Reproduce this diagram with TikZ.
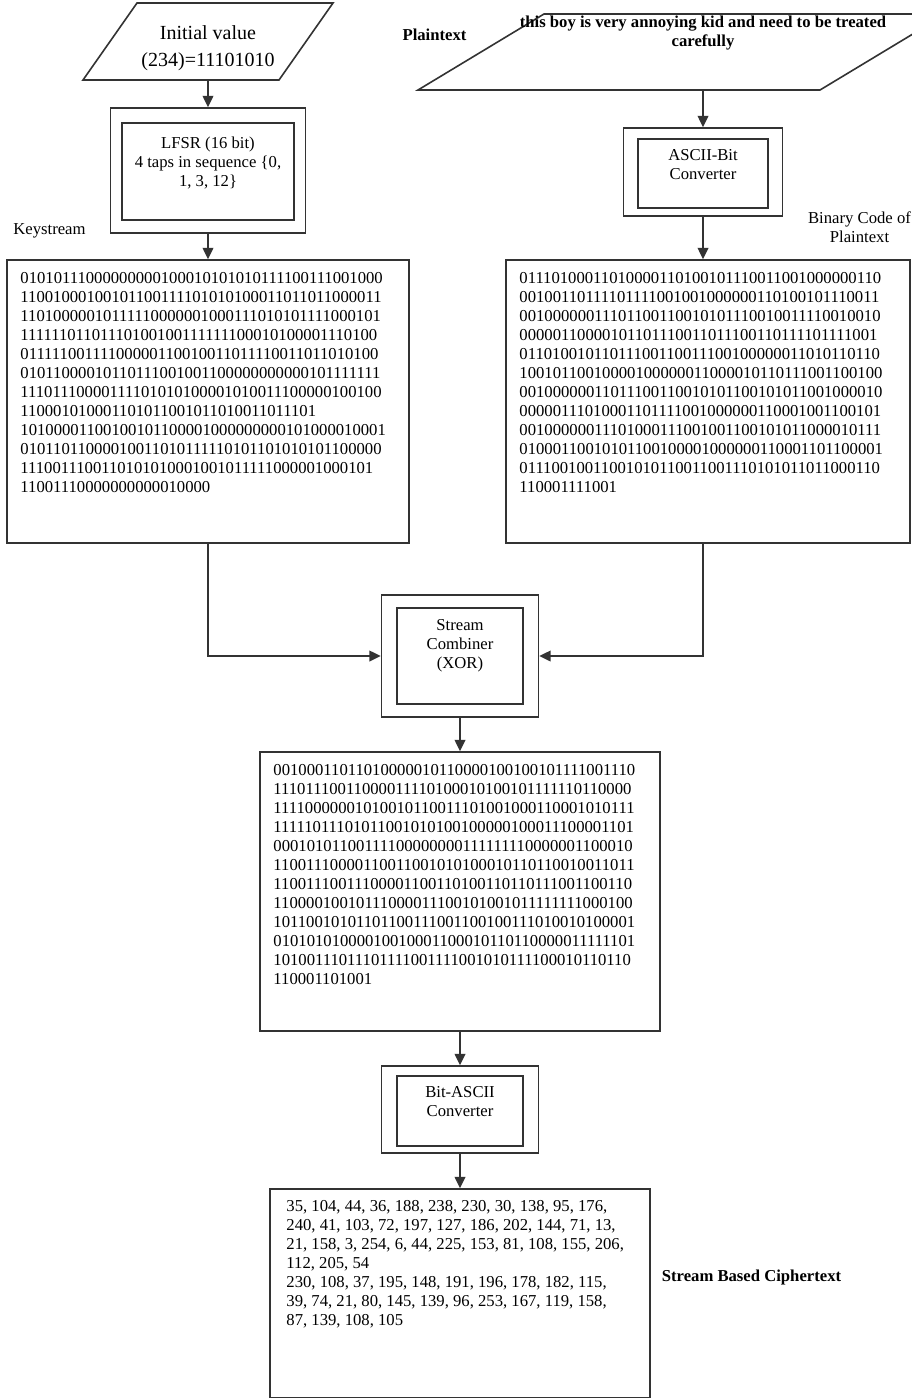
\documentclass[tikz,border=0pt]{standalone}
\usepackage{fontspec}
\setmainfont{Liberation Serif}
\usetikzlibrary{arrows.meta,positioning}

\begin{document}
\begin{tikzpicture}[x=0.75pt,y=-0.75pt,
  ln/.style={draw=black!80,line width=1.2pt},
  blk/.style={ln,inner sep=0pt},
  sz/.style 2 args={minimum width=#1*0.75pt,minimum height=#2*0.75pt},
  arr/.style={ln,-{Triangle[width=8pt,length=8.5pt]}},
  lbl/.style={inner sep=0pt,align=center,font=\fontsize{12.5}{14.25}\selectfont},
  bits/.style={anchor=north west,inner sep=0pt,align=left,font=\fontsize{12.5}{14.25}\selectfont}]
\useasboundingbox (0,0) rectangle (912,1399);

% left: initial value -> LFSR -> keystream
\draw[ln] (83,80) -- (137,3) -- (333,3) -- (279,80) -- cycle;
\node[lbl,font=\fontsize{15}{20}\selectfont] (init) at (208,48) {Initial value\\(234)=11101010};
\coordinate (initout) at (208,80);
\node[blk,sz={195}{125}] (lfsr) at (208,170.5) {};
\node[blk,sz={172}{97}] (lfsrin) at (208,171.5) {};
\node[lbl,anchor=north] (lfsrtxt) at ([shift={(0,14)}]lfsrin.north) {LFSR (16 bit)\\4 taps in sequence \{0,\\1, 3, 12\}};
\node[lbl] (kslbl) at (49.5,231) {Keystream};
\node[blk,sz={402}{283}] (kbox) at (208,401.5) {};
\node[bits] (kbits) at ([shift={(14,13)}]kbox.north west) {%
01010111000000000100010101010111100111001000\\
11001000100101100111101010100011011011000011\\
11010000010111110000001000111010101111000101\\
11111101101110100100111111100010100001110100\\
01111100111100000110010011011110011011010100\\
01011000010110111001001100000000000101111111\\
11101110000111101010100001010011100000100100\\
110001010001101011001011010011011101\\
10100001100100101100001000000000101000010001\\
01011011000010011010111110101101010101100000\\
1110011100110101010001001011111000001000101\\
11001110000000000010000};
\draw[arr] (initout) -- (lfsr.north);
\draw[arr] (lfsr.south) -- (kbox.north);

% right: plaintext -> ASCII-Bit -> binary code
\node[lbl,font=\fontsize{12.5}{14.25}\selectfont\bfseries] (ptlbl) at (434.5,35) {Plaintext};
\draw[ln] (418,90) -- (544,14) -- (946,14) -- (820,90) -- cycle;
\node[lbl,font=\fontsize{12.5}{14.25}\selectfont\bfseries] (ptxt) at (703,33.5) {this boy is very annoying kid and need to be treated\\carefully};
\coordinate (ptout) at (703,90);
\node[blk,sz={159}{88}] (ascii) at (703,172) {};
\node[blk,sz={130}{69}] (asciiin) at (703,173.5) {};
\node[lbl,anchor=north] (asciitxt) at ([shift={(0,11)}]asciiin.north) {ASCII-Bit\\Converter};
\node[lbl] (bclbl) at (859.5,227) {Binary Code of\\Plaintext};
\node[blk,sz={404}{283}] (pbox) at (708,401.5) {};
\node[bits] (pbits) at ([shift={(14,13)}]pbox.north west) {%
01110100011010000110100101110011001000000110\\
00100110111101111001001000000110100101110011\\
00100000011101100110010101110010011110010010\\
00000110000101101110011011100110111101111001\\
01101001011011100110011100100000011010110110\\
10010110010000100000011000010110111001100100\\
00100000011011100110010101100101011001000010\\
00000111010001101111001000000110001001100101\\
00100000011101000111001001100101011000010111\\
01000110010101100100001000000110001101100001\\
01110010011001010110011001110101011011000110\\
110001111001};
\draw[arr] (ptout) -- (ascii.north);
\draw[arr] (ascii.south) -- (ascii.south |- pbox.north);

% middle: XOR combiner -> Bit-ASCII -> ciphertext
\node[blk,sz={157}{122}] (comb) at (460,656) {};
\node[blk,sz={126}{96}] (combin) at (460,656) {};
\node[lbl,anchor=north] (combtxt) at ([shift={(0,12)}]combin.north) {Stream\\Combiner\\(XOR)};
\draw[arr] (kbox.south) |- (comb.west);
\draw[arr] (ascii.south |- pbox.south) |- (comb.east);
\node[blk,sz={400}{279}] (xbox) at (460,891.5) {};
\node[bits] (xbits) at ([shift={(14,13)}]xbox.north west) {%
00100011011010000010110000100100101111001110\\
11101110011000011110100010100101111110110000\\
11110000001010010110011101001000110001010111\\
11111011101011001010100100000100011100001101\\
00010101100111100000000111111110000001100010\\
11001110000110011001010100010110110010011011\\
11001110011100001100110100110110111001100110\\
11000010010111000011100101001011111111000100\\
10110010101101100111001100100111010010100001\\
01010101000010010001100010110110000011111101\\
10100111011101111001111001010111100010110110\\
110001101001};
\draw[arr] (comb.south) -- (xbox.north);
\node[blk,sz={157}{87}] (bitasc) at (460,1109.5) {};
\node[blk,sz={126}{70}] (bitascin) at (460,1111) {};
\node[lbl,anchor=north] (bitasctxt) at ([shift={(0,11)}]bitascin.north) {Bit-ASCII\\Converter};
\draw[arr] (xbox.south) -- (bitasc.north);
\node[blk,sz={380}{208.5}] (cbox) at (460,1293.25) {};
\node[bits] (cnums) at ([shift={(17,12)}]cbox.north west) {%
35, 104, 44, 36, 188, 238, 230, 30, 138, 95, 176,\\
240, 41, 103, 72, 197, 127, 186, 202, 144, 71, 13,\\
21, 158, 3, 254, 6, 44, 225, 153, 81, 108, 155, 206,\\
112, 205, 54\\
230, 108, 37, 195, 148, 191, 196, 178, 182, 115,\\
39, 74, 21, 80, 145, 139, 96, 253, 167, 119, 158,\\
87, 139, 108, 105};
\draw[arr] (bitasc.south) -- (cbox.north);
\node[lbl,font=\fontsize{12.5}{14.25}\selectfont\bfseries] (clbl) at (751.5,1277) {Stream Based Ciphertext};
\end{tikzpicture}
\end{document}
